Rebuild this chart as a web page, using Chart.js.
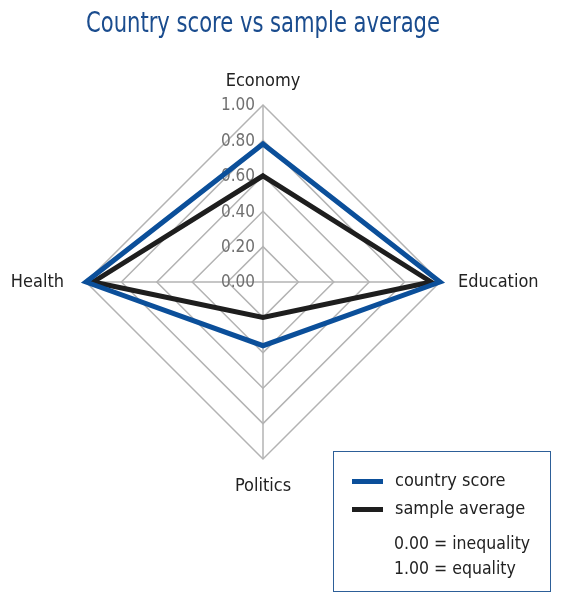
<!DOCTYPE html>
<html lang="en">
<head>
    <meta charset="UTF-8">
    <title>Country score vs sample average</title>
    <script src="https://cdn.jsdelivr.net/npm/chart.js"></script>
    <style>
        body { margin: 0; padding: 0; background: #fff; font-family: "Liberation Sans Narrow", "DejaVu Sans Condensed", Arial, sans-serif; }
        .wrap { position: relative; width: 578px; height: 611px; }
        .legend { position: absolute; left: 333px; top: 451px; width: 216px; height: 139px; border: 1.5px solid #2d5f98; color: #222; font-size: 18px; }
        .legend .row { position: absolute; left: 18px; height: 22px; line-height: 22px; white-space: nowrap; }
        .legend .swatch { display: inline-block; width: 31px; height: 5px; vertical-align: middle; margin-right: 12px; }
        .legend .note { position: absolute; left: 60px; line-height: 25px; font-size: 17.5px; white-space: nowrap; }
    </style>
</head>
<body>
<div class="wrap">
    <canvas id="radar" width="578" height="611"></canvas>
    <div class="legend" id="legend">
        <div class="row" style="top: 17px;"><span class="swatch" id="sw0"></span><span id="lb0"></span></div>
        <div class="row" style="top: 45px;"><span class="swatch" id="sw1"></span><span id="lb1"></span></div>
        <div class="note" style="top: 79px;">0.00 = inequality<br>1.00 = equality</div>
    </div>
</div>

<script>
    // data
    const categories = ['Economy', 'Education', 'Politics', 'Health'];
    const countryScore = [0.78, 1.00, 0.36, 1.00];
    const sampleAverage = [0.60, 0.95, 0.20, 0.96];
    const seriesNames = ['country score', 'sample average'];

    const FONT = '"Liberation Sans Narrow", "DejaVu Sans Condensed", Arial, sans-serif';
    const BLUE = '#0b4f9a';
    const BLACK = '#1e1e1e';

    // labels drawn by hand so they can sit left of the axis like the original
    const labelPlugin = {
        id: 'labelPlugin',
        beforeDatasetsDraw(chart) {
            const scale = chart.scales.r;
            const ctx = chart.ctx;
            ctx.save();
            ctx.font = '17px ' + FONT;
            ctx.fillStyle = '#707070';
            ctx.textAlign = 'right';
            ctx.textBaseline = 'middle';
            scale.ticks.forEach(t => {
                const d = scale.getDistanceFromCenterForValue(t.value);
                ctx.fillText(t.value.toFixed(2), scale.xCenter - 8, scale.yCenter - d + 1);
            });
            ctx.restore();
        },
        afterDraw(chart) {
            const scale = chart.scales.r;
            const ctx = chart.ctx;
            const pads = [24, 18, 27, 22];
            const aligns = ['center', 'left', 'center', 'right'];
            ctx.save();
            ctx.font = '18px ' + FONT;
            ctx.fillStyle = '#222';
            ctx.textBaseline = 'middle';
            categories.forEach((c, i) => {
                const p = scale.getPointPosition(i, scale.drawingArea + pads[i]);
                ctx.textAlign = aligns[i];
                ctx.fillText(c, p.x, p.y);
            });
            ctx.restore();
        }
    };

    const chart = new Chart(document.getElementById('radar'), {
        type: 'radar',
        data: {
            labels: categories,
            datasets: [
                { label: seriesNames[0], data: countryScore, borderColor: BLUE, borderWidth: 5, fill: false, pointRadius: 0, pointHoverRadius: 0 },
                { label: seriesNames[1], data: sampleAverage, borderColor: BLACK, borderWidth: 5, fill: false, pointRadius: 0, pointHoverRadius: 0 }
            ]
        },
        options: {
            responsive: false,
            animation: false,
            layout: { padding: { left: 86, right: 138, top: 0, bottom: 151 } },
            plugins: {
                legend: { display: false },
                tooltip: { enabled: false },
                title: {
                    display: true,
                    text: 'Country score vs sample average',
                    color: '#1a4c8e',
                    font: { family: FONT, size: 29, weight: 'normal' },
                    padding: { top: 7, bottom: 64 }
                }
            },
            scales: {
                r: {
                    min: 0,
                    max: 1,
                    ticks: { stepSize: 0.2, display: false },
                    grid: { color: '#b3b3b3', lineWidth: 1.5 },
                    angleLines: { color: '#b3b3b3', lineWidth: 1.5 },
                    pointLabels: { display: false }
                }
            }
        },
        plugins: [labelPlugin]
    });

    // html legend from the datasets
    chart.data.datasets.forEach((ds, i) => {
        document.getElementById('sw' + i).style.background = ds.borderColor;
        document.getElementById('lb' + i).textContent = ds.label;
    });
</script>
</body>
</html>
